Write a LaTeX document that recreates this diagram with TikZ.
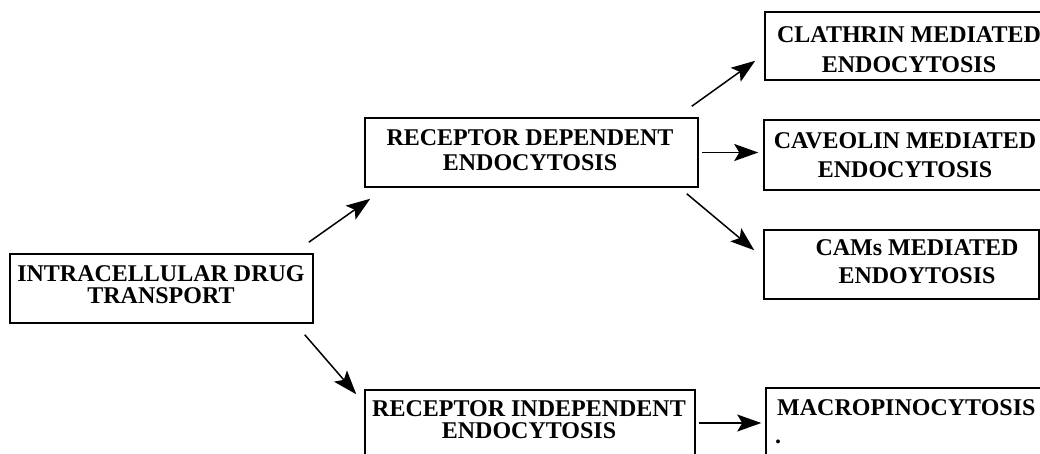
\documentclass[tikz,border=0pt]{standalone}
\usepackage{fontspec}
\setmainfont{Liberation Serif}
\usetikzlibrary{calc,arrows.meta}
\begin{document}
\begin{tikzpicture}[x=1pt,y=-1pt,
  box/.style={draw=black, line width=1.5pt, inner sep=0pt, fill=none},
  txt/.style={inner sep=0pt, align=center, font=\bfseries\fontsize{24}{#1}\selectfont},
  txt/.default=24,
  arr/.style={line width=1.5pt, -{Stealth[length=24pt,width=17pt,inset=5pt]}}]
\clip (0,0) rectangle (1040,453);
\fill[white] (0,0) rectangle (1040,453);
% boxes
\node[box, minimum width=303pt, minimum height=69pt] (b1) at (161.5,288.5) {};
\node[box, minimum width=333pt, minimum height=69pt] (b2) at (531.5,152.5) {};
\node[box, minimum width=290pt, minimum height=68pt] (b3) at (910,46) {};
\node[box, minimum width=283pt, minimum height=70pt] (b4) at (905.5,155) {};
\node[box, minimum width=275pt, minimum height=69pt] (b5) at (901.5,264.5) {};
\node[box, minimum width=330pt, minimum height=85pt] (b6) at (530,432.5) {};
\node[box, minimum width=299pt, minimum height=87pt] (b7) at (915.5,431.5) {};
% texts
\node[txt=22] (t1) at (161,284.5) {INTRACELLULAR DRUG\\TRANSPORT};
\node[txt=25] (t2) at (530,150) {RECEPTOR DEPENDENT\\ENDOCYTOSIS};
\node[txt=30] (t3) at (909,49.5) {CLATHRIN MEDIATED\\ENDOCYTOSIS};
\node[txt=29] (t4) at (905,155.5) {CAVEOLIN MEDIATED\\ENDOCYTOSIS};
\node[txt=28] (t5) at (917,262) {CAMs MEDIATED\\ENDOYTOSIS};
\node[txt=22] (t6) at (529,420) {RECEPTOR INDEPENDENT\\ENDOCYTOSIS};
\node[txt, anchor=base west] (t7) at (777,415) {MACROPINOCYTOSIS};
\node[txt, anchor=base west] (t8) at (775,443) {.};
% arrows
\draw[arr] ($(b1.north east)+(-5,-11)$) -- ($(b2.south west)+(6,11)$);
\draw[arr] ($(b1.south east)+(-9,11)$) -- ($(b6.north west)+(-8,5)$);
\draw[arr] ($(b2.north east)+(-7,-11)$) -- ($(b3.south west)+(-9,-20)$);
\draw[arr] ($(b2.east)+(3,0)$) -- ($(b4.west)+(-5,-2.5)$);
\draw[arr] ($(b2.south east)+(-12,6)$) -- ($(b5.north west)+(-9,21)$);
\draw[arr] ($(b6.east)+(3,-9.5)$) -- ($(b7.west)+(-4,-8.5)$);
\end{tikzpicture}
\end{document}
